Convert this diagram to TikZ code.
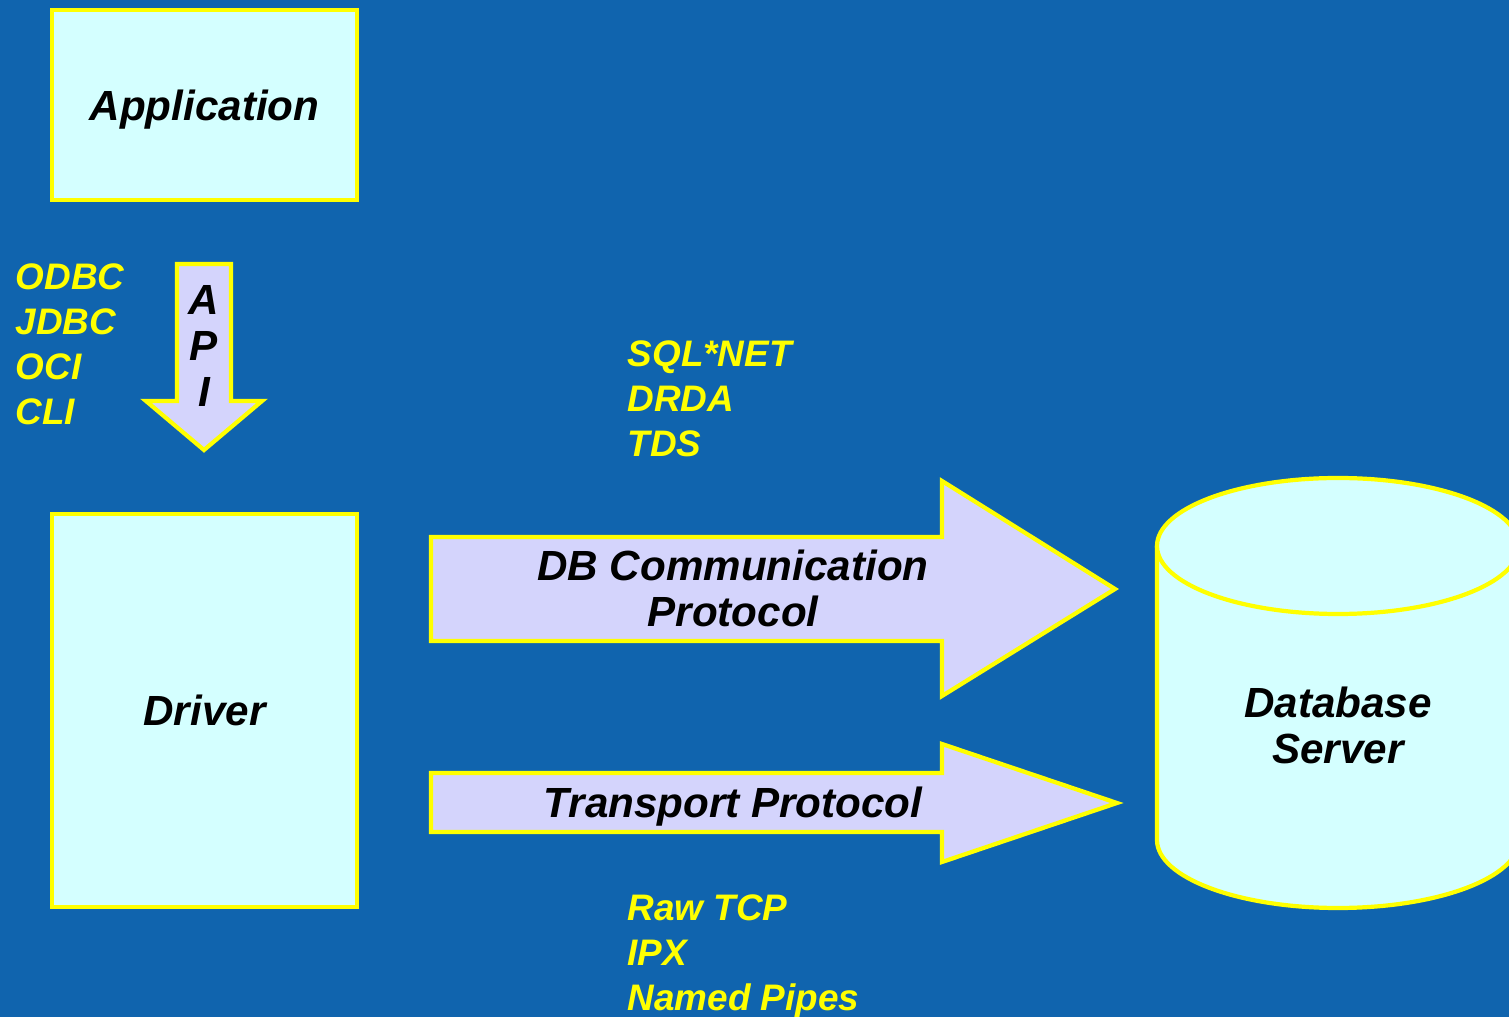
\documentclass[tikz,border=0pt]{standalone}
\usepackage{fontspec}
\setmainfont{Liberation Sans}
\definecolor{slidebg}{RGB}{16,100,174}
\definecolor{ylw}{RGB}{255,255,0}
\definecolor{boxfill}{RGB}{212,255,255}
\definecolor{arrowfill}{RGB}{212,212,252}

\begin{document}
\begin{tikzpicture}[
  box/.style={draw=ylw, fill=boxfill, line width=1.2pt, align=center, font=\fontsize{12}{13.1}\selectfont\bfseries\itshape},
  blockarrow/.style={draw=ylw, fill=arrowfill, line width=1.2pt, line join=miter},
  arrowtext/.style={align=center, inner sep=0pt, font=\fontsize{12}{13.1}\selectfont\bfseries\itshape},
  protolist/.style={align=left, inner sep=0pt, anchor=west, text=ylw, font=\fontsize{10.5}{12.8}\selectfont\bfseries\itshape}
]
\fill[slidebg] (0,0) rectangle (15.09,-10.17);
\useasboundingbox (0,0) rectangle (15.09,-10.17);

\node[box, minimum width=3.05cm, minimum height=1.9cm, text depth=0pt] (app) at (2.045,-1.05) {Application};
\node[box, minimum width=3.05cm, minimum height=3.93cm] (driver) at (2.045,-7.105) {Driver};

% API arrow
\draw[blockarrow] (1.77,-2.64) -- (2.31,-2.64) -- (2.31,-4.01) -- (2.62,-4.01)
  -- (2.04,-4.50) -- (1.46,-4.01) -- (1.77,-4.01) -- cycle;
\node[arrowtext] (api) at (2.04,-3.46) {A\\P\\I};
\node[protolist] (apis) at (0.15,-3.445) {ODBC\\JDBC\\OCI\\CLI};

% protocol arrows
\draw[blockarrow] (4.31,-5.37) -- (9.42,-5.37) -- (9.42,-4.81) -- (11.15,-5.89)
  -- (9.42,-6.96) -- (9.42,-6.41) -- (4.31,-6.41) -- cycle;
\node[arrowtext] (dbproto) at (7.33,-5.88) {DB Communication\\Protocol};
\node[protolist] (dbprotos) at (6.27,-3.99) {SQL*NET\\DRDA\\TDS};

\draw[blockarrow] (4.31,-7.73) -- (9.42,-7.73) -- (9.42,-7.44) -- (11.17,-8.03)
  -- (9.42,-8.62) -- (9.42,-8.32) -- (4.31,-8.32) -- cycle;
\node[arrowtext] (transport) at (7.33,-8.07) {Transport Protocol};
\node[protolist] (transports) at (6.27,-9.56) {Raw TCP\\IPX\\Named Pipes};

% database cylinder
\filldraw[draw=ylw, fill=boxfill, line width=1.2pt]
  (11.57,-5.46) -- (11.57,-8.40) arc[start angle=180, end angle=360, x radius=1.81, y radius=0.68]
  -- (15.19,-5.46);
\filldraw[draw=ylw, fill=boxfill, line width=1.2pt] (13.38,-5.46) ellipse[x radius=1.81, y radius=0.68];
\node[arrowtext] (server) at (13.38,-7.25) {Database\\Server};
\end{tikzpicture}
\end{document}
